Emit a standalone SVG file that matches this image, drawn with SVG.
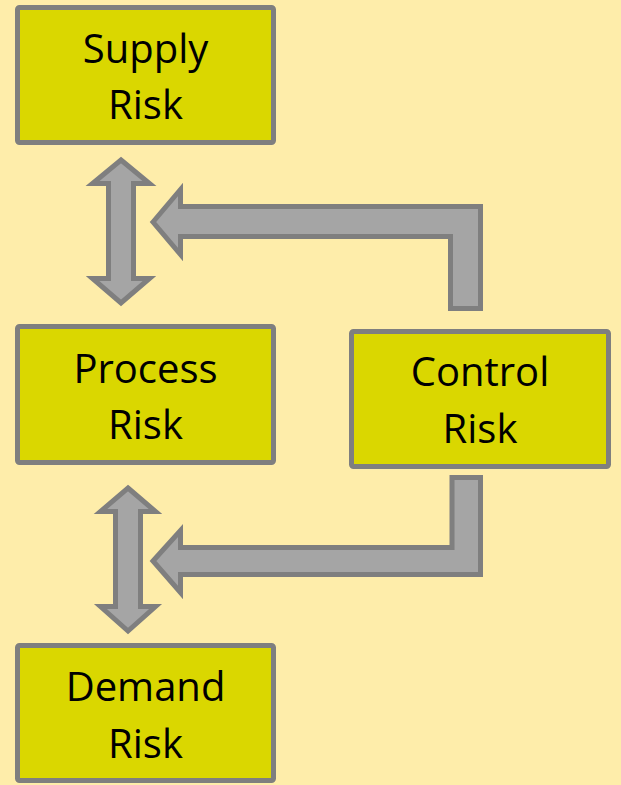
<svg xmlns="http://www.w3.org/2000/svg" width="621" height="785" viewBox="0 0 621 785">
<style>
.box{fill:#DAD700;stroke:#7F7F7F;stroke-width:5;stroke-linejoin:round}
.arr{fill:#A5A5A5;stroke:#7F7F7F;stroke-width:5;stroke-linejoin:miter}
.t{font-family:"Open Sans","Liberation Sans",sans-serif;font-size:40px;fill:#000;text-anchor:middle}
</style>
<rect x="0" y="0" width="621" height="785" fill="#FEEDAA"/>
<g id="connectors">
<polygon class="arr" points="121,160 149.5,183.5 133.5,183.5 133.5,278.5 149.5,278.5 121,303 92.5,278.5 108.5,278.5 108.5,183.5 92.5,183.5"/>
<polygon class="arr" points="128,488 155.5,511.5 140.5,511.5 140.5,606.5 155.5,606.5 128,631 100.5,606.5 115.5,606.5 115.5,511.5 100.5,511.5"/>
<polygon class="arr" points="153,222 180.5,189.5 180.5,206.5 480.5,206.5 480.5,308.5 450.5,308.5 450.5,236.5 180.5,236.5 180.5,254.5"/>
<polygon class="arr" points="153,561 180.5,530.5 180.5,547.5 452,547.5 452,477.5 480.5,477.5 480.5,574.5 180.5,574.5 180.5,592.5"/>
</g>
<g id="supply">
<rect class="box" x="17.5" y="7.5" width="256" height="135" rx="2"/>
<text class="t" x="145.5" y="63">Supply</text>
<text class="t" x="145.5" y="119">Risk</text>
</g>
<g id="process">
<rect class="box" x="17.5" y="326.5" width="256" height="136" rx="2"/>
<text class="t" x="145.5" y="383">Process</text>
<text class="t" x="145.5" y="439">Risk</text>
</g>
<g id="control">
<rect class="box" x="351.5" y="331.5" width="257" height="135" rx="2"/>
<text class="t" x="480" y="386">Control</text>
<text class="t" x="480" y="443">Risk</text>
</g>
<g id="demand">
<rect class="box" x="17.5" y="645.5" width="256" height="135" rx="2"/>
<text class="t" x="145.5" y="701">Demand</text>
<text class="t" x="145.5" y="758">Risk</text>
</g>
</svg>
